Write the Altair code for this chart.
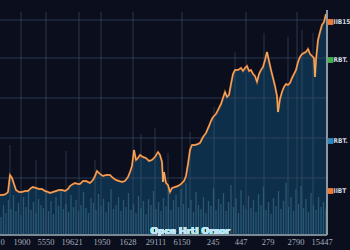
import altair as alt
import pandas as pd

# ---------------- data ----------------
price_day = [0, 3, 6, 8, 10, 12, 14, 16, 19, 22, 25, 28, 31, 33, 36, 39, 42, 45, 48, 50,
             53, 56, 59, 62, 65, 68, 70, 73, 75, 78, 80, 83, 86, 88, 90, 93, 95, 97, 100, 103,
             106, 110, 113, 116, 119, 122, 125, 128, 130, 132, 134, 136, 138, 140, 143, 146, 149, 152, 155, 158,
             160, 162, 163, 164, 166, 168, 170, 172, 175, 178, 181, 184, 186, 188, 190, 192, 195, 198, 200, 203,
             206, 209, 211, 213, 216, 219, 221, 223, 225, 227, 229, 231, 233, 235, 238, 241, 243, 245, 247, 249,
             251, 253, 255, 257, 259, 261, 263, 265, 267, 269, 271, 273, 275, 277, 278, 280, 282, 284, 286, 288,
             290, 292, 294, 296, 298, 300, 302, 304, 306, 308, 310, 312, 314, 315, 316, 318, 320, 322, 324, 326]
price_val = [40, 40, 41, 43, 60, 57, 51, 45, 43, 43, 44, 44, 47, 48, 47, 46, 46, 44, 43, 42,
             43, 44, 45, 45, 44, 46, 49, 51, 52, 51, 51, 54, 54, 53, 52, 55, 59, 64, 61, 59,
             60, 60, 57, 55, 54, 53, 54, 58, 63, 69, 85, 75, 77, 80, 78, 77, 74, 75, 78, 83,
             80, 73, 53, 63, 52, 50, 43, 47, 48, 49, 51, 54, 59, 71, 85, 90, 90, 91, 92, 98,
             102, 109, 114, 118, 121, 127, 131, 137, 143, 138, 140, 151, 161, 165, 165, 167, 164, 167, 169, 164,
             165, 161, 159, 153, 161, 165, 168, 175, 183, 174, 165, 157, 149, 139, 123, 136, 143, 148, 151, 150,
             152, 157, 161, 165, 173, 178, 181, 182, 183, 186, 181, 179, 177, 158, 175, 195, 203, 210, 213, 221]

volume = [18, 30, 22, 35, 26, 40, 24, 32, 20, 38,
          28, 44, 25, 33, 22, 36, 30, 27, 42, 24,
          34, 21, 38, 29, 45, 26, 31, 23, 40, 28,
          35, 24, 30, 43, 27, 22, 37, 32, 25, 41,
          29, 36, 23, 33, 46, 26, 30, 38, 24, 35,
          28, 42, 25, 31, 22, 39, 27, 34, 21, 36,
          30, 44, 26, 33, 24, 37, 29, 48, 25, 35,
          40, 28, 46, 31, 52, 27, 35, 23, 43, 30,
          26, 38, 22, 34, 29, 47, 25, 36, 31, 42,
          24, 33, 50, 28, 37, 22, 45, 30, 26, 39,
          27, 35, 23, 41, 30, 48, 25, 33, 21, 37,
          29, 44, 26, 34, 52, 28, 38, 24, 46, 31,
          49, 27, 36, 23, 42, 30, 25, 38, 28, 33, 26]
volume_day = [1 + 2.5 * i for i in range(len(volume))]

wick_day = [10, 36, 66, 95, 141, 155, 168, 190, 214, 235, 264, 288, 302, 313]
wick_high = [90, 75, 84, 75, 101, 107, 82, 103, 128, 183, 202, 198, 205, 202]

grid_x = [21, 46, 79, 101, 133, 182, 246, 297]
grid_y = [57, 97, 137, 177, 215]

tick_day = [2.5, 22, 46, 72, 102, 128, 156, 182, 213, 241, 268, 296, 322]
tick_label = ["0", "1900", "5550", "19621", "1950", "1628", "29111", "6150",
              "245", "447", "279", "2790", "15447"]

side_price = [213, 175, 94, 44]
side_label = ["IIB15", "RBT.", "RBT.", "IIBT"]
side_color = ["#f07a2e", "#46b04a", "#2f86bd", "#f07a2e"]

title_text = "Opce Hrtl Orsor"

# ---------------- layout ----------------
W, H = 327, 223
xs = alt.Scale(domain=[0, 327], nice=False, zero=False)
ys = alt.Scale(domain=[0, 223], nice=False, zero=False)

price_df = pd.DataFrame({"day": price_day, "price": price_val})
vol_df = pd.DataFrame({"day": volume_day, "vol": volume})
wick_df = pd.DataFrame({"day": wick_day, "high": wick_high})
gx_df = pd.DataFrame({"day": grid_x})
gy_df = pd.DataFrame({"price": grid_y})
tick_df = pd.DataFrame({"day": tick_day, "label": tick_label})
side_df = pd.DataFrame({"price": side_price, "label": side_label, "color": side_color})

X = lambda f="day": alt.X(f"{f}:Q", scale=xs, axis=None)
Y = lambda f="price": alt.Y(f"{f}:Q", scale=ys, axis=None)

area = alt.Chart(price_df).mark_area(color="#0e3350", opacity=0.9, interpolate="linear").encode(
    x=X(), y=Y(), y2=alt.datum(0))

wicks = alt.Chart(wick_df).mark_rule(color="#52677f", opacity=0.45, strokeWidth=1).encode(
    x=X(), y=Y("high"), y2=alt.datum(0))

vols = alt.Chart(vol_df).mark_rule(color="#336a88", opacity=0.7, strokeWidth=1.3).encode(
    x=X(), y=Y("vol"), y2=alt.datum(0))

gridv = alt.Chart(gx_df).mark_rule(color="#3a4a68", opacity=0.7, strokeWidth=1).encode(
    x=X(), y=alt.value(0), y2=alt.value(H))

gridh = alt.Chart(gy_df).mark_rule(color="#3a4a68", opacity=0.7, strokeWidth=1).encode(
    y=Y(), x=alt.value(0), x2=alt.value(W))

glow = alt.Chart(price_df).mark_line(color="#e8782e", strokeWidth=2.0, opacity=0.9).encode(
    x=X(), y=Y())
line = alt.Chart(price_df).mark_line(color="#f9c27a", strokeWidth=0.8).encode(
    x=X(), y=Y())

border_r = alt.Chart(price_df).mark_rule(color="#8d98a3", strokeWidth=1.5).encode(
    x=alt.value(W), y=alt.value(-2), y2=alt.value(H))
border_b = alt.Chart(price_df).mark_rule(color="#7d8a96", strokeWidth=1.2).encode(
    x=alt.value(0), x2=alt.value(W), y=alt.value(H))

ticks = alt.Chart(tick_df).mark_text(color="#a3adba", fontSize=8.5, font="Liberation Serif",
                                     baseline="middle").encode(
    x=X(), y=alt.value(H + 7), text="label:N")

title = alt.Chart(price_df).mark_text(color="#bfe6f5", fontSize=9, fontWeight="bold",
                                      font="DejaVu Sans", baseline="middle").encode(
    x=alt.value(190), y=alt.value(H - 4), text=alt.value(title_text))

side_sq = alt.Chart(side_df).mark_square(size=34, opacity=1).encode(
    x=alt.value(W + 3.5), y=Y(), color=alt.Color("color:N", scale=None))
side_tx = alt.Chart(side_df).mark_text(color="#d4dbe3", fontSize=6.5, fontWeight="bold",
                                       font="DejaVu Sans Condensed", align="left",
                                       baseline="middle").encode(
    x=alt.value(W + 6.5), y=Y(), text="label:N")

chart = alt.layer(area, wicks, vols, gridv, gridh, glow, line, border_r, border_b,
                  ticks, title, side_sq, side_tx).properties(
    width=W, height=H,
    background="#0a0e1d",
    padding={"left": 0, "top": 12, "right": 23, "bottom": 15},
    autosize=alt.AutoSizeParams(type="none"),
).configure_view(stroke=None)

chart.save("out.html", embed_options={"renderer": "svg", "actions": False})
